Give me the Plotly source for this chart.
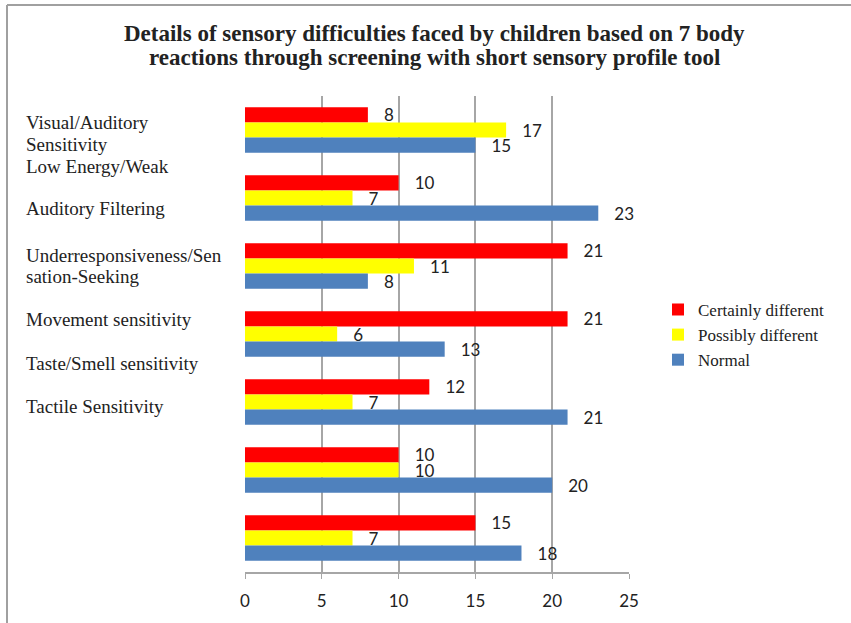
import plotly.graph_objects as go

categories = ["Group 1", "Group 2", "Group 3", "Group 4", "Group 5", "Group 6", "Group 7"]
certainly_different = [8, 10, 21, 21, 12, 10, 15]
possibly_different = [17, 7, 11, 6, 7, 10, 7]
normal = [15, 23, 8, 13, 21, 20, 18]
series_names = ["Certainly different", "Possibly different", "Normal"]
side_labels = [
    "Visual/Auditory<br>Sensitivity",
    "Low Energy/Weak",
    "Auditory Filtering",
    "Underresponsiveness/Sen<br>sation-Seeking",
    "Movement sensitivity",
    "Taste/Smell sensitivity",
    "Tactile Sensitivity",
]
x_ticks = [0, 5, 10, 15, 20, 25]
title_lines = ["Details of sensory difficulties faced by children based on 7 body",
               "reactions through screening with short sensory profile tool"]

W, H = 851, 623
L, R, T, B = 245, 851 - 629, 96, 623 - 577
PW, PH = W - L - R, H - T - B

def px_x(p):
    return (p - L) / PW

def px_y(p):
    return 1 - (p - T) / PH

colors = ["#FF0000", "#FFFF00", "#4F81BD"]
values = [certainly_different, possibly_different, normal]

fig = go.Figure()
for name, vals, col in zip(series_names, values, colors):
    fig.add_trace(go.Bar(
        y=categories, x=vals, name=name, orientation="h",
        marker=dict(color=col, line=dict(width=0)),
        text=vals, texttemplate="   %{x}", textposition="outside", constraintext="none",
        textfont=dict(family="Lato, Open Sans, sans-serif", size=17, color="#222222"),
        cliponaxis=False,
    ))

serif = "Liberation Serif, Times New Roman, serif"
annotations = []
for line, py in zip(title_lines, [33, 57]):
    annotations.append(dict(
        text="<b>" + line + "</b>", x=px_x(434), y=px_y(py), xref="paper", yref="paper",
        xanchor="center", yanchor="middle", showarrow=False,
        font=dict(family=serif, size=23, color="#222222"),
    ))

label_y = [[123, 145], [167], [210], [257, 278], [322], [366], [410]]
for txt, pys in zip(side_labels, label_y):
    for line, py in zip(txt.split("<br>"), pys):
        annotations.append(dict(
            text=line, x=px_x(24), y=px_y(py), xref="paper", yref="paper",
            xanchor="left", yanchor="middle", align="left", showarrow=False,
            font=dict(family=serif, size=19, color="#222222"),
        ))

shapes = [
    dict(type="line", xref="paper", yref="paper",
         x0=px_x(7), x1=px_x(7), y0=px_y(640), y1=px_y(4),
         line=dict(color="#A0A0A0", width=2)),
    dict(type="line", xref="paper", yref="paper",
         x0=px_x(7), x1=px_x(860), y0=px_y(4), y1=px_y(4),
         line=dict(color="#A0A0A0", width=2)),
]

fig.update_layout(
    width=W, height=H,
    margin=dict(l=L, r=R, t=T, b=B),
    paper_bgcolor="white", plot_bgcolor="white",
    barmode="group", bargap=0.33, bargroupgap=0,
    xaxis=dict(range=[0, 25], tickvals=x_ticks, showgrid=True, gridcolor="#A6A6A6", gridwidth=2,
               showline=True, linecolor="#A6A6A6", linewidth=2, zeroline=False,
               ticks="outside", ticklen=5, tickcolor="#A6A6A6", ticklabelstandoff=8,
               tickfont=dict(family="Lato, Open Sans, sans-serif", size=17, color="#222222")),
    yaxis=dict(autorange="reversed", showticklabels=False, showgrid=False, zeroline=False,
               showline=False, ticks=""),
    legend=dict(x=px_x(658), y=px_y(294), xanchor="left", yanchor="top",
                font=dict(family=serif, size=17, color="#222222"),
                bgcolor="rgba(0,0,0,0)", tracegroupgap=0, itemwidth=30),
    annotations=annotations,
    shapes=shapes,
)

fig.write_html("out.html")
